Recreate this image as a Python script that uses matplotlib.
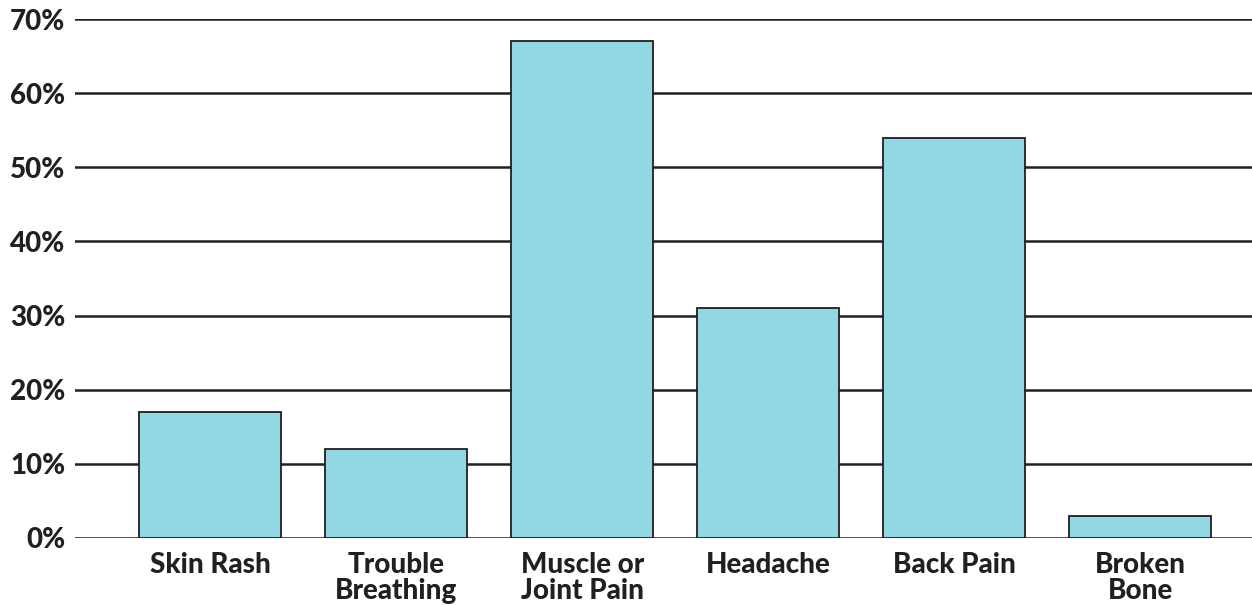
import matplotlib.pyplot as plt

# Share of respondents reporting each symptom
categories = ["Skin Rash", "Trouble\nBreathing", "Muscle or\nJoint Pain",
              "Headache", "Back Pain", "Broken\nBone"]
percent = [17, 12, 67, 31, 54, 3]
y_ticks = [0, 10, 20, 30, 40, 50, 60, 70]

plt.rcParams['font.family'] = ['Lato', 'DejaVu Sans']

fig = plt.figure(figsize=(12.52, 6.05), dpi=100)
ax = fig.add_axes([75 / 1252, 67 / 605, 1 - 75 / 1252, 519 / 605])

x = range(len(categories))
ax.bar(x, percent, width=0.763, color="#92d7e3", edgecolor="#231f20",
       linewidth=1.3, zorder=3)

ax.set_ylim(0, 70)
ax.set_xlim(-0.726, 5.6)
ax.set_yticks(y_ticks)
ax.set_yticklabels([f"{t}%" for t in y_ticks])
ax.set_xticks(list(x))
ax.set_xticklabels(categories, linespacing=1.02)

ax.grid(axis="y", color="#231f20", linewidth=1.8, zorder=0)
for side in ["top", "right", "left", "bottom"]:
    ax.spines[side].set_visible(False)
ax.tick_params(axis="both", length=0, labelsize=20, labelcolor="#231f20")
ax.tick_params(axis="y", pad=7)
ax.tick_params(axis="x", pad=10)
for lbl in ax.get_xticklabels() + ax.get_yticklabels():
    lbl.set_fontweight("black")

fig.savefig("out.png", dpi=100)
